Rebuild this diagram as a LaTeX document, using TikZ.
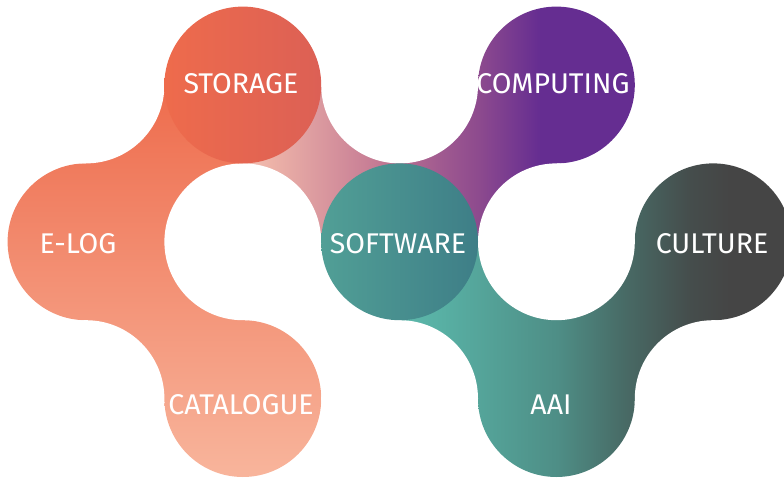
\documentclass[tikz,border=0pt]{standalone}
\usepackage{fontspec}
\setmainfont{Fira Sans}
\definecolor{lgTop}{HTML}{EE6C4D}
\definecolor{lgBot}{HTML}{F8B59C}
\definecolor{stL}{HTML}{EE6B4C}
\definecolor{stR}{HTML}{DC6055}
\definecolor{swL}{HTML}{519F96}
\definecolor{swR}{HTML}{3E7E87}
\definecolor{ppA}{HTML}{F2C0B4}
\definecolor{ppB}{HTML}{EDB3A8}
\definecolor{ppC}{HTML}{C98096}
\definecolor{ppD}{HTML}{B86E90}
\definecolor{ppE}{HTML}{A05A90}
\definecolor{ppF}{HTML}{8E4B8E}
\definecolor{ppG}{HTML}{652D91}
\definecolor{tlA}{HTML}{5DB8AB}
\definecolor{tlB}{HTML}{58B0A4}
\definecolor{tlC}{HTML}{4E8E86}
\definecolor{tlD}{HTML}{486B66}
\definecolor{tlE}{HTML}{454D4C}
\definecolor{tlF}{HTML}{454545}
\pgfdeclarehorizontalshading{pinkpurple}{100bp}{color(0bp)=(ppA); color(40.43bp)=(ppA); color(42.22bp)=(ppB); color(48.41bp)=(ppC); color(50.51bp)=(ppD); color(53.06bp)=(ppE); color(55.42bp)=(ppF); color(59.44bp)=(ppG); color(100bp)=(ppG)}
\pgfdeclarehorizontalshading{tealgray}{100bp}{color(0bp)=(tlA); color(50.51bp)=(tlA); color(53.06bp)=(tlB); color(60.53bp)=(tlC); color(64.74bp)=(tlD); color(69.01bp)=(tlE); color(71.56bp)=(tlF); color(100bp)=(tlF)}
\tikzset{
  lbl/.style={text=white, font=\fontsize{28.5}{29}\selectfont, anchor=base, inner sep=0pt},
  leftgrad/.style={top color=lgTop, bottom color=lgBot},
  hole/.style={fill=white}
}
\newcommand\XA{86}
\newcommand\XB{242.8}
\newcommand\XC{399.6}
\newcommand\XD{556.4}
\newcommand\XE{713.2}
\newcommand\YA{85}
\newcommand\YB{241.8}
\newcommand\YC{398.6}
\newcommand\rr{78.4}
\begin{document}
\begin{tikzpicture}[x=1pt,y=-1pt]
\useasboundingbox (0,0) rectangle (784,478);
% left (orange) group
\begin{scope}\clip (\XA,\YB) circle[radius=\rr]; \shade[leftgrad] (0,85) rectangle (784,478);\end{scope}
\begin{scope}\clip (\XB,\YC) circle[radius=\rr]; \shade[leftgrad] (0,85) rectangle (784,478);\end{scope}
\begin{scope}\clip (\XA,\YA) rectangle (\XB,\YB); \shade[leftgrad] (0,85) rectangle (784,478);\end{scope}
\begin{scope}\clip (\XA,\YB) rectangle (\XB,\YC); \shade[leftgrad] (0,85) rectangle (784,478);\end{scope}
% pink-purple group
\begin{scope}\clip (\XB,\YA) rectangle (\XC,\YB); \shade[shading=pinkpurple] (0,0) rectangle (784,478);\end{scope}
\begin{scope}\clip (\XC,\YA) rectangle (\XD,\YB); \shade[shading=pinkpurple] (0,0) rectangle (784,478);\end{scope}
\begin{scope}\clip (\XD,\YA) circle[radius=\rr]; \shade[shading=pinkpurple] (0,0) rectangle (784,478);\end{scope}
% teal-gray group
\begin{scope}\clip (\XC,\YB) rectangle (\XD,\YC); \shade[shading=tealgray] (0,0) rectangle (784,478);\end{scope}
\begin{scope}\clip (\XD,\YB) rectangle (\XE,\YC); \shade[shading=tealgray] (0,0) rectangle (784,478);\end{scope}
\begin{scope}\clip (\XD,\YC) circle[radius=\rr]; \shade[shading=tealgray] (0,0) rectangle (784,478);\end{scope}
\begin{scope}\clip (\XE,\YB) circle[radius=\rr]; \shade[shading=tealgray] (0,0) rectangle (784,478);\end{scope}
% white holes
\fill[hole] (\XA,\YA) circle[radius=\rr];
\fill[hole] (\XB,\YB) circle[radius=\rr];
\fill[hole] (\XA,\YC) circle[radius=\rr];
\fill[hole] (\XC,\YA) circle[radius=\rr];
\fill[hole] (\XD,\YB) circle[radius=\rr];
\fill[hole] (\XC,\YC) circle[radius=\rr];
\fill[hole] (\XE,\YC) circle[radius=\rr];
% overlay circles
\shade[left color=stL, middle color=stL, right color=stR] (\XB,\YA) circle[radius=\rr];
\shade[left color=swL, right color=swR] (\XC,\YB) circle[radius=\rr];
% labels
\node[lbl] (storage) at (241,94) {STORAGE};
\node[lbl] (computing) at (553,94) {COMPUTING};
\node[lbl] (elog) at (78,254) {E-LOG};
\node[lbl] (software) at (398,254) {SOFTWARE};
\node[lbl] (culture) at (712,254) {CULTURE};
\node[lbl] (catalogue) at (241,414) {CATALOGUE};
\node[lbl] (aai) at (551,414) {AAI};
\end{tikzpicture}
\end{document}
